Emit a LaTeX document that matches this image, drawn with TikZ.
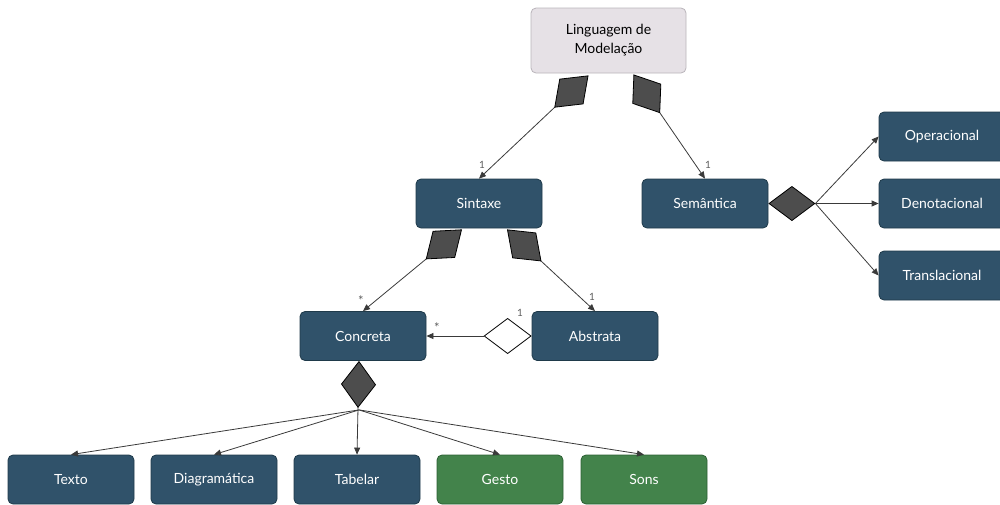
\documentclass[tikz,border=0pt]{standalone}
\usepackage{fontspec}
\setmainfont{Lato}
\usetikzlibrary{arrows.meta}
\definecolor{boxblue}{HTML}{30526A}
\definecolor{boxblueedge}{HTML}{1F3A4A}
\definecolor{boxgreen}{HTML}{43834B}
\definecolor{boxgreenedge}{HTML}{2C6034}
\definecolor{topfill}{HTML}{E6E1E6}
\definecolor{topedge}{HTML}{B9B4BA}
\definecolor{diafill}{HTML}{4D4D4D}
\definecolor{linkgray}{HTML}{3A3A3A}
\definecolor{multgray}{HTML}{5E5E5E}
\tikzset{
  box/.style={rectangle, rounded corners=5pt, minimum width=126pt, minimum height=49pt,
    inner sep=0pt, line width=0.8pt, font=\fontsize{14}{19}\selectfont, text=white, align=center},
  bluebox/.style={box, fill=boxblue, draw=boxblueedge},
  greenbox/.style={box, fill=boxgreen, draw=boxgreenedge},
  topbox/.style={box, fill=topfill, draw=topedge, text=black, minimum width=155pt, minimum height=65pt},
  link/.style={draw=linkgray, line width=0.8pt, -{Triangle[length=7pt,width=6pt]}},
  comp/.style={link, {Diamond[length=47pt,width=35pt,fill=diafill,color=black]}-{Triangle[length=7pt,width=6pt]}},
  agg/.style={link, {Diamond[length=48pt,width=36pt,fill=white,color=black]}-{Triangle[length=7pt,width=6pt]}},
  mult/.style={font=\fontsize{10}{11}\selectfont, text=multgray, inner sep=0pt},
  star/.style={mult, font=\fontsize{13}{13}\selectfont}
}
\begin{document}
\begin{tikzpicture}[x=1pt, y=-1pt]
\useasboundingbox (0,0) rectangle (1000,504);
\clip (0,0) rectangle (1000,504);

% nodes
\node[topbox] (ling) at (608.5,40.5) {Linguagem de\\Modelação};
\node[bluebox] (sin) at (479,203.5) {Sintaxe};
\node[bluebox] (sem) at (705,203.5) {Semântica};
\node[bluebox] (op) at (942,136.5) {Operacional};
\node[bluebox] (den) at (942,203.5) {Denotacional};
\node[bluebox] (tra) at (942,275.5) {Translacional};
\node[bluebox] (con) at (363,336) {Concreta};
\node[bluebox] (abs) at (595,336) {Abstrata};
\node[bluebox] (tex) at (71,479.5) {Texto};
\node[bluebox] (dia) at (214,479.5) {Diagramática};
\node[bluebox] (tab) at (357,479.5) {Tabelar};
\node[greenbox] (ges) at (500,479.5) {Gesto};
\node[greenbox] (son) at (644,479.5) {Sons};

% composition: language -> syntax / semantics
\draw[comp] ([xshift=-20pt,yshift=-2pt]ling.south) -- (sin.north);
\draw[comp] ([xshift=25pt,yshift=-1pt]ling.south) -- (sem.north);

% composition: syntax -> concrete / abstract
\draw[comp] ([xshift=-17pt,yshift=-1pt]sin.south) -- (con.north);
\draw[comp] ([xshift=28pt,yshift=-1pt]sin.south) -- (abs.north);

% aggregation: abstract -> concrete
\draw[agg] (abs.west) -- (con.east);

% semantics kinds
\coordinate (semj) at ([xshift=47pt]sem.east);
\draw[comp] (sem.east) -- (den.west);
\draw[link] (semj) -- (op.west);
\draw[link] (semj) -- (tra.west);

% concrete syntax kinds
\coordinate (conc) at ([xshift=-4pt]con.south);
\coordinate (conj) at ([xshift=-4pt,yshift=-49pt]con.south);
\draw[comp] (conc) -- (tab.north);
\draw[link] (conj) -- (tex.north);
\draw[link] (conj) -- (dia.north);
\draw[link] (conj) -- (ges.north);
\draw[link] (conj) -- (son.north);

% multiplicities
\node[mult] (m1) at (482,165) {1};
\node[mult] (m2) at (708,165) {1};
\node[star] (m3) at (361,301) {*};
\node[mult] (m4) at (592,297) {1};
\node[mult] (m5) at (520,313) {1};
\node[star] (m6) at (437,328) {*};
\end{tikzpicture}
\end{document}
